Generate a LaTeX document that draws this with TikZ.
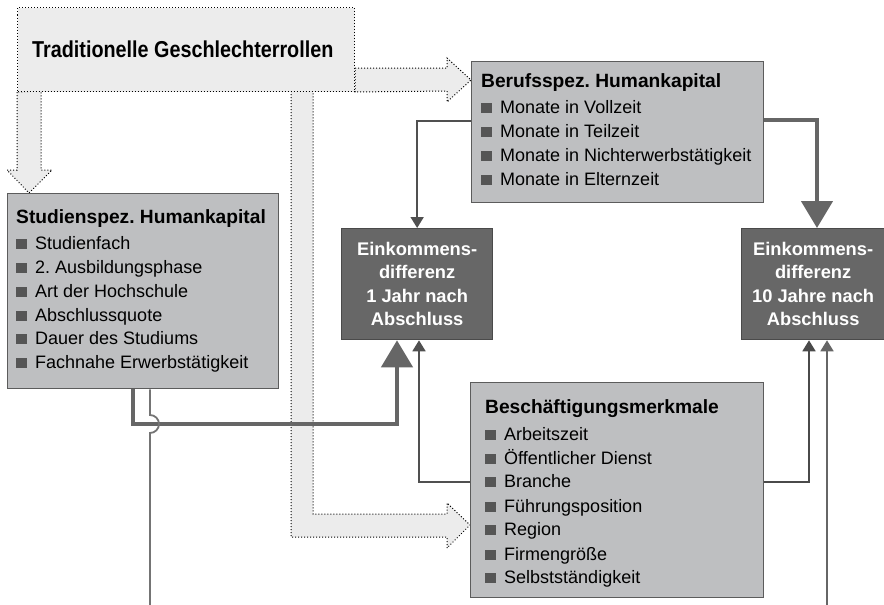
\documentclass[tikz,border=0pt]{standalone}
\usepackage{fontspec}
\setmainfont{Liberation Sans}
\newfontfamily\tradfont[FakeStretch=0.86]{Liberation Sans}
\usetikzlibrary{arrows.meta,calc,backgrounds}
\definecolor{tradfill}{HTML}{ECECEC}
\definecolor{boxfill}{HTML}{BEBFC1}
\definecolor{boxline}{HTML}{5C5C5C}
\definecolor{darkfill}{HTML}{676767}
\definecolor{darkline}{HTML}{4A4A4A}
\definecolor{bulletc}{HTML}{555555}
\definecolor{thickc}{HTML}{666666}
\definecolor{thinc}{HTML}{505050}
\definecolor{thinlight}{HTML}{747474}
\newcommand{\bul}{{\color{bulletc}\rule{11pt}{10.5pt}}\hspace{8pt}}
\frenchspacing
\begin{document}
\begin{tikzpicture}[x=1pt,y=-1pt,
  tradbox/.style={rectangle, inner sep=0pt, fill=tradfill, draw=black, line width=1pt, dash pattern=on 1pt off 2pt, font=\tradfont\bfseries\fontsize{23}{26}\selectfont},
  lightbox/.style={rectangle, inner sep=0pt, fill=boxfill, draw=boxline, line width=1.3pt},
  darkbox/.style={rectangle, inner sep=0pt, fill=darkfill, draw=darkline, line width=1.3pt, text=white, align=center, font=\bfseries\fontsize{18.3}{23.4}\selectfont},
  head/.style={inner sep=0pt, anchor=base west, font=\bfseries\fontsize{19.2}{23}\selectfont},
  item/.style={inner sep=0pt, anchor=base west, font=\fontsize{18}{24}\selectfont},
  blockarrow/.style={fill=tradfill, draw=black, line width=1pt, dash pattern=on 1pt off 2pt, line join=miter},
  thickarrow/.style={draw=thickc, line width=4.5pt, -{Triangle[width=31pt,length=27pt]}},
  thinarrow/.style={draw=thinc, line width=1.8pt, -{Triangle[width=13pt,length=11pt]}},
  thinline/.style={draw=thinlight, line width=1.8pt}]
\useasboundingbox (0,0) rectangle (884,605);

% boxes
\node[tradbox, minimum width=337pt, minimum height=84pt, anchor=north west] (trad) at (17,7) {};
\node[inner sep=0pt, anchor=base west, font=\tradfont\bfseries\fontsize{23}{26}\selectfont] (trad-t) at (32,57) {Traditionelle Geschlechterrollen};
\node[lightbox, minimum width=271pt, minimum height=195pt, anchor=north west] (stud) at (7,193) {};
\node[lightbox, minimum width=292pt, minimum height=141pt, anchor=north west] (beruf) at (471,61) {};
\node[lightbox, minimum width=293pt, minimum height=215pt, anchor=north west] (besch) at (470,382) {};
\node[darkbox, minimum width=151pt, minimum height=111pt, anchor=north west] (ek1) at (341,228) {Einkommens-\\differenz\\1 Jahr nach\\Abschluss};
\node[darkbox, minimum width=143pt, minimum height=111pt, anchor=north west] (ek2) at (741,228) {Einkommens-\\differenz\\10 Jahre nach\\Abschluss};

% texts
\node[head] (stud-h) at (16,223) {Studienspez. Humankapital};
\foreach \yy/\lab [count=\i] in {249/Studienfach,273/2. Ausbildungsphase,297/Art der Hochschule,321/Abschlussquote,344/Dauer des Studiums,368/Fachnahe Erwerbstätigkeit}
  \node[item] (stud-\i) at (16,\yy) {\bul\lab};
\node[head] (beruf-h) at (481,87) {Berufsspez. Humankapital};
\foreach \yy/\lab [count=\i] in {113/Monate in Vollzeit,137/Monate in Teilzeit,161/Monate in Nichterwerbstätigkeit,185/Monate in Elternzeit}
  \node[item] (beruf-\i) at (481,\yy) {\bul\lab};
\node[head] (besch-h) at (485,413) {Beschäftigungsmerkmale};
\foreach \yy/\lab [count=\i] in {440/Arbeitszeit,464/Öffentlicher Dienst,487/Branche,512/Führungsposition,535/Region,560/Firmengröße,583/Selbstständigkeit}
  \node[item] (besch-\i) at (485,\yy) {\bul\lab};

% dotted block arrows
\begin{scope}[on background layer]
  \draw[blockarrow] (trad.south west) -- (17,170) -- (7,170) -- ($(stud.north west)+(22,0)$) -- (52,170) -- (41,170) -- (41,91) -- cycle;
  \draw[blockarrow] (trad.east |- 0,68) -- (447,68) -- (447,58) -- (beruf.west |- 0,80) -- (447,102) -- (447,91) -- (trad.south east) -- cycle;
  \draw[blockarrow] (291,91) -- (291,537) -- (447,537) -- (447,548) -- (besch.west |- 0,525) -- (447,503) -- (447,514) -- (313,514) -- (313,91) -- cycle;
\end{scope}

% connectors
\draw[thinarrow] (beruf.west |- 0,121) -| (ek1.north);
\draw[thickarrow] (beruf.east |- 0,120) -| (ek2.north -| 817,0);
\draw[thickarrow] (stud.south -| 133,0) |- (397,424) -- (ek1.south -| 397,0);
\draw[thinarrow] (besch.west |- 0,482) -| (ek1.south -| 419,0);
\draw[thinarrow, draw=darkline] (besch.east |- 0,482) -| (ek2.south -| 809,0);
\draw[thinline] (stud.south -| 150,0) -- (150,415) arc[start angle=-90, end angle=90, radius=9] -- (150,605) coordinate (stud-out);
\coordinate (ek2-in) at (827,605);
\draw[thinarrow, draw=thickc] (ek2-in) -- (ek2.south -| 827,0);
\end{tikzpicture}
\end{document}
